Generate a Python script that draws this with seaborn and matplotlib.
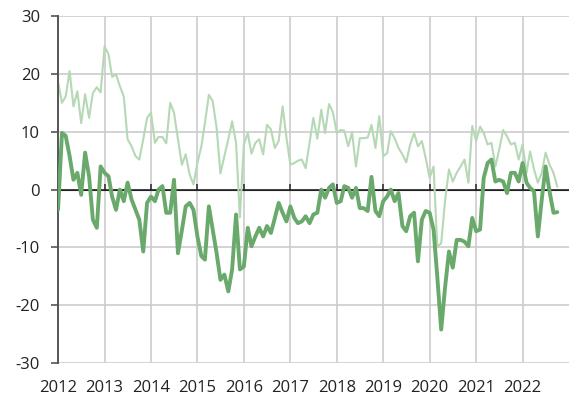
import numpy as np
import pandas as pd
import matplotlib
matplotlib.use("Agg")
import matplotlib.pyplot as plt
import matplotlib.dates as mdates
import seaborn as sns

# monthly values, Jan 2012 onwards
light_vals = [
    18.6, 15.0, 16.1, 20.5, 14.4, 17.0, 11.5, 16.5, 12.4, 16.7, 17.7, 16.8,
    24.8, 23.4, 19.5, 19.9, 17.9, 16.1, 8.7, 7.5, 5.8, 5.2, 8.7, 12.4,
    13.3, 8.1, 9.1, 9.1, 8.0, 15.0, 13.3, 8.7, 4.3, 6.1, 2.6, 0.9,
    4.6, 7.5, 11.5, 16.4, 15.3, 10.7, 2.8, 5.8, 8.7, 11.8, 8.1, -4.8,
    7.8, 9.8, 6.2, 8.1, 8.7, 6.1, 11.2, 10.4, 7.2, 8.4, 14.4, 9.0,
    4.3, 4.6, 5.0, 5.2, 3.7, 8.1, 12.4, 8.8, 13.8, 9.8, 14.8, 13.4,
    9.8, 10.3, 10.2, 7.5, 9.9, 4.0, 8.9, 8.9, 9.0, 11.2, 7.2, 12.7,
    5.8, 6.3, 10.1, 8.9, 7.2, 6.1, 4.7, 7.8, 9.8, 7.5, 8.4, 5.5,
    2.0, 4.0, -9.8, -9.3, -2.0, 3.5, 1.4, 2.9, 4.0, 5.2, 1.2, 11.0,
    8.4, 10.9, 9.8, 7.8, 8.1, 4.0, 6.9, 10.3, 9.2, 7.8, 8.1, 5.2,
    7.8, 2.9, 6.6, 3.5, 1.2, 2.9, 6.4, 4.3, 2.9, 0.5,
]
dark_vals = [
    -3.5, 9.8, 9.3, 5.8, 1.7, 2.9, -0.9, 6.4, 2.3, -5.2, -6.6, 4.0,
    2.9, 2.3, -1.2, -3.5, 0.0, -2.0, 1.2, -1.7, -3.5, -5.2, -10.7, -2.3,
    -1.2, -2.0, 0.0, 0.6, -4.0, -4.0, 1.7, -11.0, -7.0, -2.9, -2.3, -3.5,
    -8.1, -11.5, -12.1, -2.9, -6.9, -11.0, -15.6, -14.7, -17.6, -13.8, -4.3, -13.8,
    -13.3, -6.6, -9.8, -8.1, -6.6, -8.1, -6.3, -7.5, -4.9, -2.3, -4.0, -5.5,
    -2.9, -4.9, -5.8, -5.5, -4.6, -5.8, -4.3, -4.0, 0.0, -1.4, 0.3, 0.9,
    -2.3, -2.0, 0.6, 0.3, -1.4, 0.3, -3.2, -3.2, -3.7, 2.2, -3.7, -4.6,
    -2.0, -1.2, 0.0, -2.0, -0.6, -6.3, -7.2, -4.6, -4.0, -12.4, -5.2, -3.7,
    -4.0, -6.9, -15.0, -24.2, -17.0, -10.7, -13.5, -8.7, -8.7, -9.0, -9.8, -4.9,
    -7.2, -6.9, 2.0, 4.6, 5.2, 1.4, 1.7, 1.4, -0.6, 2.9, 2.9, 1.4,
    4.6, 1.2, 0.3, -0.3, -8.1, -1.7, 4.0, -0.3, -4.0, -3.9,
]
years = list(range(2012, 2023))
y_ticks = [-30, -20, -10, 0, 10, 20, 30]

light_dates = pd.date_range("2012-01-01", periods=len(light_vals), freq="MS")
dark_dates = pd.date_range("2012-01-01", periods=len(dark_vals), freq="MS")
df_light = pd.DataFrame({"date": light_dates, "value": light_vals})
df_dark = pd.DataFrame({"date": dark_dates, "value": dark_vals})

sns.set_style("white")
plt.rcParams["font.family"] = ["Open Sans", "DejaVu Sans"]
plt.rcParams["axes.unicode_minus"] = False

fig = plt.figure(figsize=(5.69, 4.03), dpi=100)
ax = fig.add_axes([0.102, 0.099, 0.898, 0.861])

grid_c = "#cccccc"
for yv in y_ticks:
    if yv != 0:
        ax.axhline(yv, color=grid_c, lw=1.2, zorder=0)
year_dates = [pd.Timestamp(f"{y}-01-01") for y in years]
for d in year_dates[1:]:
    ax.axvline(d, color=grid_c, lw=1.2, zorder=0)
ax.axhline(0, color="#222222", lw=1.2, zorder=1)

sns.lineplot(data=df_light, x="date", y="value", ax=ax, color="#b5d8b5", lw=1.5, zorder=2)
sns.lineplot(data=df_dark, x="date", y="value", ax=ax, color="#69a96b", lw=2.8, zorder=3)

ax.set_xlim(pd.Timestamp("2012-01-01"), pd.Timestamp("2023-01-01"))
ax.set_ylim(-30, 30)
ax.set_yticks(y_ticks)
ax.set_xticks(year_dates)
ax.xaxis.set_major_formatter(mdates.DateFormatter("%Y"))
ax.set_xlabel("")
ax.set_ylabel("")

for s in ["top", "right", "bottom"]:
    ax.spines[s].set_visible(False)
ax.spines["left"].set_color("#555555")
ax.spines["left"].set_linewidth(1.4)

ax.tick_params(axis="y", length=5, width=1.2, color="#555555", pad=8,
               labelsize=12, labelcolor="#222222", left=True)
ax.tick_params(axis="x", length=0, pad=12, labelsize=12, labelcolor="#222222")

# small year ticks on the zero line
sec = ax.secondary_xaxis(0.5)
sec.set_xticks(year_dates[1:])
sec.set_xticklabels([])
sec.tick_params(axis="x", length=4, width=1.2, color="#333333", direction="out")
sec.spines["bottom"].set_visible(False)

fig.savefig("out.png", dpi=100)
